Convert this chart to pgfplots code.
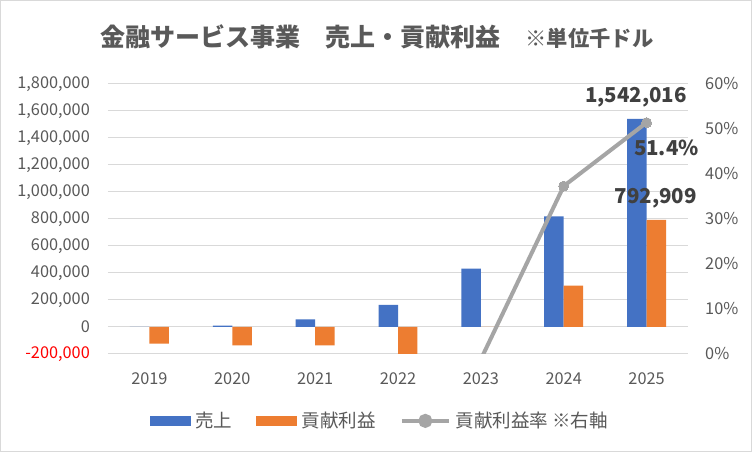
\documentclass[border=0pt]{standalone}
\usepackage{pgfplots}
\pgfplotsset{compat=1.18}
\usepackage{fontspec}
\setmainfont{Noto Sans CJK JP}
\definecolor{cBlue}{HTML}{4472C4}
\definecolor{cOrange}{HTML}{ED7D31}
\definecolor{cGray}{HTML}{A5A5A5}
\definecolor{cGrid}{HTML}{D9D9D9}
\definecolor{cText}{HTML}{595959}
\definecolor{cLab}{HTML}{404040}
\begin{document}
\begin{tikzpicture}[x=1pt,y=1pt]
\useasboundingbox (-108,-98) rectangle (644,354);
\fill[white] (-108,-98) rectangle (644,354);
\draw[cGrid, line width=1.5pt] (-107.25,-97.25) rectangle (643.25,353.25);
\begin{axis}[
  at={(0,0)}, anchor=south west,
  scale only axis, width=580pt, height=270pt,
  xmin=-0.5, xmax=6.5,
  ymin=-200000, ymax=1800000,
  xtick={0,1,2,3,4,5,6},
  xticklabels={2019,2020,2021,2022,2023,2024,2025},
  ytick={-200000,0,200000,400000,600000,800000,1000000,1200000,1400000,1600000,1800000},
  yticklabels={\textcolor{red}{-200,000},0,{200,000},{400,000},{600,000},{800,000},{1,000,000},{1,200,000},{1,400,000},{1,600,000},{1,800,000}},
  scaled ticks=false,
  ymajorgrids, grid style={cGrid, line width=1pt},
  axis line style={draw=none},
  major tick length=0pt,
  tick label style={font=\fontsize{16.3}{19}\selectfont, text=cText},
  yticklabel style={anchor=east, inner sep=0pt, xshift=-18pt},
  xticklabel style={anchor=center, inner sep=0pt, yshift=-25pt},
  /pgf/number format/assume math mode=true,
  clip=true,
  after end axis/.append code={
    \node[font=\bfseries\fontsize{20.5}{23}\selectfont, text=cLab] at (axis cs:5.872,1703700) {1,542,016};
    \node[font=\bfseries\fontsize{20.5}{23}\selectfont, text=cLab] at (axis cs:6.24,1325900) {51.4\%};
    \node[font=\bfseries\fontsize{20.5}{23}\selectfont, text=cLab] at (axis cs:6.109,955500) {792,909};
  },
]
\addplot[ybar, bar width=0.235, bar shift=-0.1175, fill=cBlue, draw=none] coordinates {
 (0,0) (1,10000) (2,56000) (3,163000) (4,432000) (5,819000) (6,1542016)};
\addplot[ybar, bar width=0.235, bar shift=0.1175, fill=cOrange, draw=none] coordinates {
 (0,-123000) (1,-137000) (2,-137000) (3,-210000) (4,0) (5,306000) (6,792909)};
\end{axis}
\begin{axis}[
  at={(0,0)}, anchor=south west,
  scale only axis, width=580pt, height=270pt,
  xmin=-0.5, xmax=6.5,
  ymin=0, ymax=60,
  axis x line=none,
  axis y line*=right,
  axis line style={draw=none},
  major tick length=0pt,
  ytick={0,10,20,30,40,50,60},
  yticklabel={\pgfmathprintnumber{\tick}\%},
  tick label style={font=\fontsize{16.3}{19}\selectfont, text=cText},
  yticklabel style={anchor=west, inner sep=0pt, xshift=17pt},
  /pgf/number format/assume math mode=true,
  clip=true, clip marker paths=true,
  legend columns=3,
  legend style={at={(0.469,-0.248)}, anchor=center, draw=none, fill=none,
    font=\fontsize{18.5}{21}\selectfont, text=cText,
    /tikz/every odd column/.append style={column sep=3pt},
    /tikz/every even column/.append style={column sep=22pt},
    nodes={inner sep=2pt}},
]
\addlegendimage{legend image code/.code={\fill[cBlue] (0pt,-4.5pt) rectangle (40pt,4.5pt);}}
\addlegendentry{売上}
\addlegendimage{legend image code/.code={\fill[cOrange] (0pt,-4.5pt) rectangle (40pt,4.5pt);}}
\addlegendentry{貢献利益}
\addplot[cGray, line width=4pt, mark=*, mark size=5pt, mark options={fill=cGray, draw=cGray, line width=0pt},
  legend image code/.code={\draw[cGray, line width=4pt] (0pt,0pt) -- (47pt,0pt); \fill[cGray] (23.5pt,0pt) circle (5pt);}]
 coordinates {(1,-1370) (2,-245) (3,-129) (4,-1.2) (5,37.3) (6,51.4)};
\addlegendentry{貢献利益率 ※右軸}
\end{axis}
\node[font=\bfseries\fontsize{25}{28}\selectfont, text=cText] at (269,317) {金融サービス事業　売上・貢献利益　\fontsize{21.3}{24}\selectfont ※単位千ドル};
\end{tikzpicture}
\end{document}
